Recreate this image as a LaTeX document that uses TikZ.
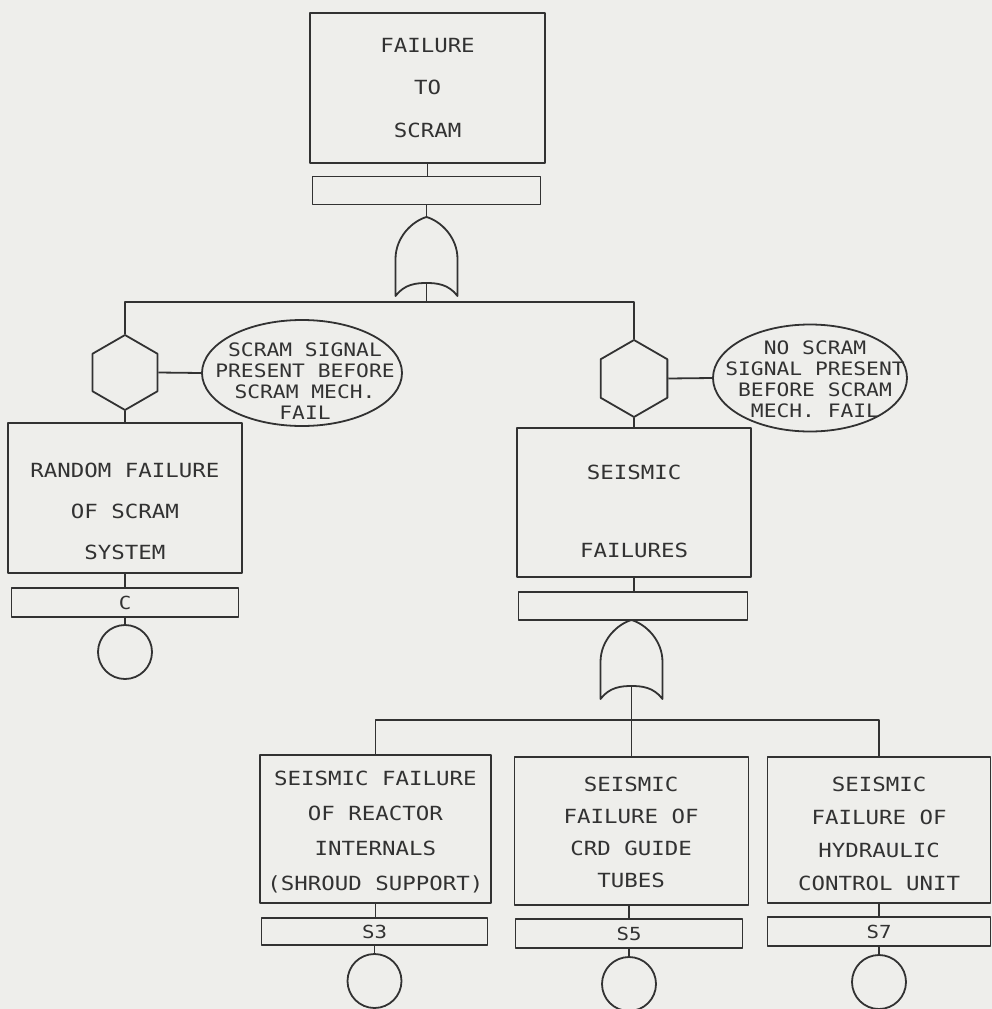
\documentclass[tikz,border=0pt]{standalone}
\usepackage{fontspec}
\usetikzlibrary{shapes.geometric}
\newfontfamily\plotfont[FakeStretch=1.15]{DejaVu Sans Mono}
\definecolor{bg}{RGB}{238,238,235}
\definecolor{ink}{RGB}{50,50,50}
\newcommand{\drawORgate}[3]{%
  \coordinate (#3-in) at (#1,#2);
  \coordinate (#3-out) at (#1,#2+67);
  \draw[ln] (#1-31,#2+79) -- (#1-31,#2+42)
    .. controls (#1-31,#2+20) and (#1-14,#2+4) .. (#1,#2)
    .. controls (#1+14,#2+4) and (#1+31,#2+20) .. (#1+31,#2+42)
    -- (#1+31,#2+79)
    .. controls (#1+22,#2+67) and (#1+10,#2+66) .. (#1,#2+66)
    .. controls (#1-10,#2+66) and (#1-22,#2+67) .. (#1-31,#2+79) -- cycle;}
\tikzset{
  ln/.style={draw=ink, line width=1.8pt, line join=round},
  evbox/.style={ln, rectangle, inner sep=0, minimum width=#1},
  codebox/.style={ln, rectangle, inner sep=0, minimum width=#1, minimum height=28,
     text=ink, font={\plotfont\fontsize{18}{20}\selectfont}},
  txt/.style={text=ink, align=center, inner sep=0, font={\plotfont\fontsize{19.5}{#1}\selectfont}},
  etxt/.style={text=ink, align=center, inner sep=0, font={\plotfont\fontsize{18.5}{21}\selectfont}},
  hexa/.style={ln, regular polygon, regular polygon sides=6, shape border rotate=30,
     minimum size=#1, inner sep=0},
  cond/.style={ln, ellipse, inner sep=0},
  basic/.style={ln, circle, minimum size=54, inner sep=0}
}
\begin{document}
\begin{tikzpicture}[x=1pt,y=-1pt]
\fill[bg] (0,0) rectangle (992,1009);
\useasboundingbox (0,0) rectangle (992,1009);

% top event
\node[evbox=235, minimum height=150] (top) at (427.5,88) {};
\node[txt=42.5] (topt) at (427.5,88) {FAILURE\\TO\\SCRAM};
\node[codebox=228] (topc) at (426.5,190.5) {};
\drawORgate{426.5}{217}{ga}
\coordinate (bar1) at (426.5,302);

% left branch
\node[hexa=75] (hexL) at (125,372.5) {};
\node[cond, minimum width=200, minimum height=106] (ellL) at (302,373) {};
\node[etxt] (ellLt) at (305,381) {SCRAM SIGNAL\\PRESENT BEFORE\\SCRAM MECH.\\FAIL};
\node[evbox=234, minimum height=150] (boxL) at (125,498) {};
\node[txt=41] (boxLt) at (125,511) {RANDOM FAILURE\\OF SCRAM\\SYSTEM};
\node[codebox=227, minimum height=29] (codeL) at (125,602.5) {C};
\node[basic] (cirL) at (125,652) {};

% right branch
\node[hexa=77] (hexR) at (634,378.5) {};
\node[cond, minimum width=194, minimum height=107] (ellR) at (810,378) {};
\node[etxt] (ellRt) at (815,379) {NO SCRAM\\SIGNAL PRESENT\\BEFORE SCRAM\\MECH. FAIL};
\node[evbox=234, minimum height=149] (boxR) at (634,502.5) {};
\node[txt=78] (boxRt) at (634,511) {SEISMIC\\FAILURES};
\node[codebox=229] (codeR) at (633,606) {};
\drawORgate{631.5}{620}{gb}
\coordinate (bar2) at (631.5,720);

% bottom events
\node[evbox=231, minimum height=148] (boxA) at (375.5,829) {};
\node[txt=35] (boxAt) at (375.5,832) {SEISMIC FAILURE\\OF REACTOR\\INTERNALS\\(SHROUD SUPPORT)};
\node[codebox=226, minimum height=27] (codeA) at (374.5,931.5) {S3};
\node[basic] (cirA) at (374.5,981) {};

\node[evbox=234, minimum height=148] (boxB) at (631.5,831) {};
\node[txt=32] (boxBt) at (631,832) {SEISMIC\\FAILURE OF\\CRD GUIDE\\TUBES};
\node[codebox=227, minimum height=29] (codeB) at (629,933.5) {S5};
\node[basic] (cirB) at (629,984) {};

\node[evbox=223, minimum height=146] (boxC) at (879,830) {};
\node[txt=33] (boxCt) at (879,834) {SEISMIC\\FAILURE OF\\HYDRAULIC\\CONTROL UNIT};
\node[codebox=223, minimum height=29] (codeC) at (879,931.5) {S7};
\node[basic] (cirC) at (879,982) {};

% connectors
\draw[ln] (top.south) -- (top.south |- topc.north);
\draw[ln] (topc.south) -- (ga-in);
\draw[ln] (ga-out) -- (bar1);
\draw[ln] (hexL.north) -- (hexL.north |- bar1) -- (hexR.north |- bar1) -- (hexR.north);
\draw[ln] (hexL.east) -- (ellL.west);
\draw[ln] (hexR.east) -- (ellR.west);
\draw[ln] (hexL.south) -- (boxL.north);
\draw[ln] (boxL.south) -- (codeL.north);
\draw[ln] (codeL.south) -- (cirL.north);
\draw[ln] (hexR.south) -- (boxR.north);
\draw[ln] (boxR.south) -- (boxR.south |- codeR.north);
\draw[ln] (codeR.south -| gb-in) -- (gb-in);
\draw[ln] (gb-out) -- (boxB.north);
\draw[ln] (boxA.north) -- (boxA.north |- bar2) -- (boxC.north |- bar2) -- (boxC.north);
\draw[ln] (boxA.south) -- (boxA.south |- codeA.north);
\draw[ln] (codeA.south) -- (cirA.north);
\draw[ln] (boxB.south -| codeB.north) -- (codeB.north);
\draw[ln] (codeB.south) -- (cirB.north);
\draw[ln] (boxC.south) -- (codeC.north);
\draw[ln] (codeC.south) -- (cirC.north);
\end{tikzpicture}
\end{document}
